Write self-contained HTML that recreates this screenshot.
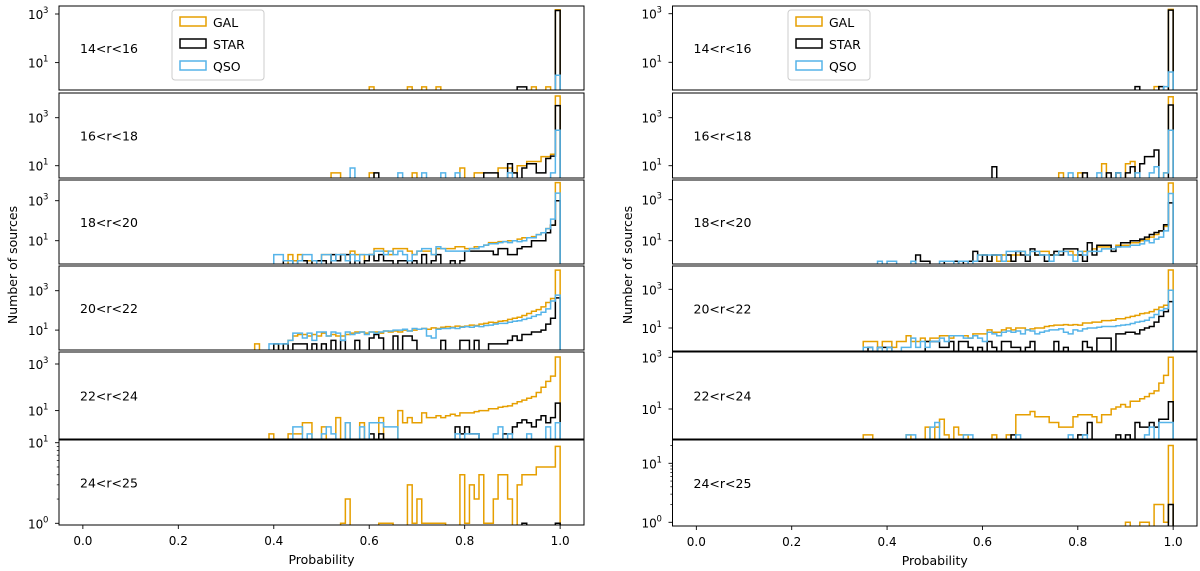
<!DOCTYPE html>
<html><head><meta charset="utf-8">
<style>
html,body{margin:0;padding:0;background:#fff;}
svg{display:block;font-family:"DejaVu Sans","Liberation Sans",sans-serif;}
</style></head>
<body>
<svg id="fig" width="1200" height="571" viewBox="0 0 1200 571" xmlns="http://www.w3.org/2000/svg"></svg>
<script>
// ---- data: counts per bin, bins start at probability 0.35, width 0.01 (65 bins) ----
const binStart = 35;
const rowLabels = ["14<r<16","16<r<18","18<r<20","20<r<22","22<r<24","24<r<25"];
const xTicks = [0.0,0.2,0.4,0.6,0.8,1.0];
const xTickLabels = ["0.0","0.2","0.4","0.6","0.8","1.0"];
const seriesNames = ["GAL","STAR","QSO"];

// LEFT
const L1_gal=[0,0,0,0,0, 0,0,0,0,0, 0,0,0,0,0, 0,0,0,0,0, 0,0,0,0,0, 1,0,0,0,0, 0,0,0,1,0, 0,1,0,0,1, 0,0,0,0,0, 0,0,0,0,0, 0,0,0,0,0, 0,0,0,0,1, 0,0,1,0,1500];
const L1_star=[0,0,0,0,0, 0,0,0,0,0, 0,0,0,0,0, 0,0,0,0,0, 0,0,0,0,0, 0,0,0,0,0, 0,0,0,0,0, 0,0,0,0,0, 0,0,0,0,0, 0,0,0,0,0, 0,0,0,0,0, 0,1,1,0,0, 0,0,0,0,1400];
const L1_qso=[0,0,0,0,0, 0,0,0,0,0, 0,0,0,0,0, 0,0,0,0,0, 0,0,0,0,0, 0,0,0,0,0, 0,0,0,0,0, 0,0,0,0,0, 0,0,0,0,0, 0,0,0,0,0, 0,0,0,0,0, 0,0,0,0,0, 0,0,0,0,3];
const L2_gal=[0,0,0,0,0, 0,0,0,0,0, 0,0,0,0,0, 0,0,5,5,0, 0,0,0,0,0, 5,0,0,0,0, 0,0,0,0,5, 0,0,0,0,0, 0,0,0,0,8, 0,0,5,5,0, 0,0,8,8,8, 5,10,10,15,15, 15,24,24,30,8000];
const L2_star=[0,0,0,0,0, 0,0,0,0,0, 0,0,0,0,0, 0,0,0,0,0, 0,0,0,0,0, 0,5,0,0,0, 0,0,0,0,0, 0,0,0,0,0, 0,0,0,0,0, 0,0,0,0,5, 5,5,0,0,12, 5,0,8,12,12, 5,5,20,25,3200];
const L2_qso=[0,0,0,0,0, 0,0,0,0,0, 0,0,0,0,0, 0,0,0,0,0, 0,8,0,0,0, 0,0,0,0,0, 0,5,0,0,0, 0,5,0,0,0, 5,0,0,5,0, 0,0,0,0,0, 0,0,0,0,5, 0,0,0,0,0, 0,0,0,5,300];
const L3_gal=[0,0,0,0,0, 0,0,0,2,1, 2,1,1,0,1, 2,2,1,1,2, 1,3,2,2,1, 2,4,4,3,2, 4,4,4,3,2, 3,3,3,2,4, 4,4,4,5,5, 4,4,5,5,6, 8,8,9,9,10, 10,12,14,14,16, 20,25,40,60,8000];
const L3_star=[0,0,0,0,0, 0,0,1,1,0, 1,1,0,1,1, 1,0,2,1,2, 2,0,1,0,1, 2,1,2,1,1, 0,1,1,0,1, 0,2,0,1,2, 0,0,1,0,1, 3,3,3,3,3, 3,2,4,4,2, 2,4,5,5,10, 10,10,25,60,1000];
const L3_qso=[0,0,0,0,0, 2,2,1,1,0, 1,2,2,1,0, 2,2,1,2,2, 1,2,1,2,2, 2,3,3,2,3, 2,3,2,1,2, 3,4,4,2,5, 4,3,3,3,3, 3,4,4,5,6, 7,7,8,9,8, 10,9,10,14,14, 20,25,40,120,2400];
const L4_gal=[0,2,0,0,0, 2,0,2,3,5, 6,6,5,6,5, 7,5,6,5,5, 6,7,8,8,7, 8,8,7,9,8, 9,8,10,9,10, 11,12,11,13,12, 14,15,14,16,15, 16,18,17,20,22, 25,24,28,30,35, 40,45,55,70,90, 110,150,250,400,11000];
const L4_star=[0,0,0,0,0, 2,0,2,0,2, 2,2,0,2,0, 2,0,3,0,3, 0,0,3,0,0, 4,6,4,0,0, 5,0,5,5,3, 0,0,0,0,0, 3,0,0,0,3, 3,0,3,0,0, 2,2,2,2,3, 5,3,6,6,8, 8,10,20,40,430];
const L4_qso=[0,0,0,0,2, 2,2,2,3,7, 7,4,7,3,8, 8,5,8,7,3, 8,6,7,8,6, 8,7,8,9,9, 10,10,11,9,12, 11,12,5,4,11, 12,12,13,12,14, 15,14,16,15,17, 18,20,22,22,25, 28,30,35,40,50, 60,80,120,300,600];
const L5_gal=[0,0,0,0,1, 0,0,0,1,1, 1,3,3,0,0, 2,0,0,5,0, 3,0,0,3,0, 0,0,5,0,0, 0,10,3,5,3, 3,8,5,5,6, 5,6,7,6,8, 8,8,9,10,10, 12,12,14,15,16, 20,24,28,34,40, 60,100,180,300,2000];
const L5_star=[0,0,0,0,0, 0,0,0,0,0, 0,0,0,0,0, 0,0,0,0,0, 0,0,0,0,0, 1,0,1,0,0, 0,0,0,0,0, 0,0,0,0,0, 0,0,0,2,1, 2,1,1,0,0, 0,0,0,1,1, 2,3,4,3,2, 4,6,3,5,21];
const L5_qso=[0,0,0,0,0, 0,0,0,0,2, 2,0,1,0,0, 1,2,1,0,0, 3,0,0,2,0, 3,3,3,2,2, 2,0,0,0,0, 0,0,0,0,0, 0,0,0,1,0, 1,1,1,0,0, 0,1,2,0,1, 0,0,0,1,0, 0,0,2,0,3];
const L6_gal=[0,0,0,0,0, 0,0,0,0,0, 0,0,0,0,0, 0,0,0,0,1, 2,0,0,0,0, 0,0,1,1,1, 0,0,0,3,1, 2,1,1,1,1, 1,0,0,0,4, 1,3,2,4,1, 1,2,4,4,2, 0,3,4,4,4, 5,5,5,5,9];
const L6_star=[0,0,0,0,0, 0,0,0,0,0, 0,0,0,0,0, 0,0,0,0,0, 0,0,0,0,0, 0,0,0,0,0, 0,0,0,0,0, 0,0,0,0,0, 0,0,0,0,0, 0,0,0,0,0, 0,0,0,0,0, 0,0,1,0,0, 0,0,0,0,1];
const L6_qso=[0,0,0,0,0, 0,0,0,0,0, 0,0,0,0,0, 0,0,0,0,0, 0,0,0,0,0, 0,0,0,0,0, 0,0,0,0,0, 0,0,0,0,0, 0,0,0,0,0, 0,0,0,0,0, 0,0,0,0,0, 0,0,0,0,0, 0,0,0,0,0];
// RIGHT
const R1_gal=[0,0,0,0,0, 0,0,0,0,0, 0,0,0,0,0, 0,0,0,0,0, 0,0,0,0,0, 0,0,0,0,0, 0,0,0,0,0, 0,0,0,0,0, 0,0,0,0,0, 0,0,0,0,0, 0,0,0,0,0, 0,0,0,0,0, 0,1,0,0,1500];
const R1_star=[0,0,0,0,0, 0,0,0,0,0, 0,0,0,0,0, 0,0,0,0,0, 0,0,0,0,0, 0,0,0,0,0, 0,0,0,0,0, 0,0,0,0,0, 0,0,0,0,0, 0,0,0,0,0, 0,0,0,0,0, 0,0,1,0,0, 0,0,1,0,1400];
const R1_qso=[0,0,0,0,0, 0,0,0,0,0, 0,0,0,0,0, 0,0,0,0,0, 0,0,0,0,0, 0,0,0,0,0, 0,0,0,0,0, 0,0,0,0,0, 0,0,0,0,0, 0,0,0,0,0, 0,0,0,0,0, 0,0,0,0,0, 0,0,0,1,4];
const R2_gal=[0,0,0,0,0, 0,0,0,0,0, 0,0,0,0,0, 0,0,0,0,0, 0,0,0,0,0, 0,0,0,0,0, 0,0,0,0,0, 0,0,0,0,0, 0,5,0,0,0, 5,0,0,0,0, 12,0,0,5,0, 12,15,0,0,0, 0,0,0,5,7500];
const R2_star=[0,0,0,0,0, 0,0,0,0,0, 0,0,0,0,0, 0,0,0,0,0, 0,0,0,0,0, 0,0,9,0,0, 0,0,0,0,0, 0,0,0,0,0, 0,0,0,0,0, 0,5,0,0,0, 0,5,0,5,0, 5,9,0,12,24, 24,45,0,0,3400];
const R2_qso=[0,0,0,0,0, 0,0,0,0,0, 0,0,0,0,0, 0,0,0,0,0, 0,0,0,0,0, 0,0,0,0,0, 0,0,0,0,0, 0,0,0,0,0, 0,0,0,5,0, 0,0,0,0,5, 0,0,0,5,0, 0,0,5,0,0, 5,9,0,5,300];
const R3_gal=[0,0,0,0,0, 0,0,0,0,0, 0,0,0,0,0, 0,0,1,1,1, 1,1,1,1,2, 2,1,2,1,2, 1,2,2,3,2, 3,2,3,3,2, 2,3,3,3,2, 2,3,3,4,5, 5,5,4,6,6, 6,8,8,10,12, 15,20,30,50,6500];
const R3_star=[0,0,0,0,0, 0,0,0,0,0, 0,2,1,1,0, 0,0,1,1,1, 0,1,1,3,1, 2,1,2,2,1, 2,1,3,2,1, 4,2,2,1,2, 3,2,4,4,4, 2,1,8,2,6, 6,6,3,5,8, 8,10,10,12,15, 20,25,30,60,700];
const R3_qso=[0,0,0,1,0, 1,1,0,0,0, 1,0,0,0,0, 0,1,1,1,0, 1,1,0,1,2, 2,2,2,2,1, 3,3,3,3,2, 3,3,2,2,1, 2,3,3,2,1, 3,2,3,3,3, 4,4,4,5,5, 5,6,6,7,10, 8,12,15,30,2000];
const R4_gal=[2,2,2,1,2, 2,1,2,2,4, 2,2,3,2,3, 3,4,4,3,4, 4,4,3,5,5, 5,8,6,6,8, 10,8,10,10,8, 9,10,10,12,13, 14,14,15,14,15, 14,18,18,20,20, 24,24,25,30,30, 35,40,45,55,60, 70,90,120,150,10000];
const R4_star=[0,1,0,1,1, 1,0,0,0,0, 0,0,0,2,2, 2,1,1,2,0, 2,2,1,0,1, 0,2,1,0,2, 2,1,1,0,1, 2,0,0,0,0, 2,0,1,0,0, 0,2,1,0,3, 3,3,0,5,5, 6,6,5,8,10, 12,20,40,70,230];
const R4_qso=[1,1,0,1,0, 1,0,0,1,1, 3,1,2,1,2, 2,3,2,4,4, 4,3,3,4,3, 2,6,5,4,6, 7,6,7,5,8, 7,5,6,7,8, 8,9,6,5,8, 7,9,10,10,11, 12,12,12,13,14, 15,17,20,22,25, 35,50,80,100,900];
const R5_gal=[1,1,0,0,0, 0,0,0,0,1, 0,0,0,2,0, 2,4,1,0,2, 1,1,0,0,0, 0,0,1,0,0, 1,0,6,6,6, 8,5,5,5,3, 3,2,2,2,5, 6,6,6,5,3, 6,6,10,12,15, 12,20,20,25,30, 40,50,100,200,1000];
const R5_star=[0,0,0,0,0, 0,0,0,0,0, 0,0,0,0,0, 0,0,0,0,0, 0,0,0,0,0, 0,0,0,0,0, 0,1,0,0,0, 0,0,0,0,0, 0,0,0,0,0, 1,1,3,0,0, 0,0,0,1,0, 1,0,3,2,2, 3,2,4,4,19];
const R5_qso=[0,0,0,0,0, 0,0,0,0,1, 1,0,0,0,2, 3,0,0,0,0, 0,1,1,0,0, 0,0,0,0,0, 0,0,1,0,0, 0,0,0,0,0, 0,0,0,1,0, 0,1,0,0,0, 0,0,0,0,0, 0,0,0,0,1, 2,0,3,3,3];
const R6_gal=[0,0,0,0,0, 0,0,0,0,0, 0,0,0,0,0, 0,0,0,0,0, 0,0,0,0,0, 0,0,0,0,0, 0,0,0,0,0, 0,0,0,0,0, 0,0,0,0,0, 0,0,0,0,0, 0,0,0,0,0, 1,0,0,1,1, 0,2,2,1,20];
const R6_star=[0,0,0,0,0, 0,0,0,0,0, 0,0,0,0,0, 0,0,0,0,0, 0,0,0,0,0, 0,0,0,0,0, 0,0,0,0,0, 0,0,0,0,0, 0,0,0,0,0, 0,0,0,0,0, 0,0,0,0,0, 0,0,0,0,0, 0,0,0,0,2];
const R6_qso=[0,0,0,0,0, 0,0,0,0,0, 0,0,0,0,0, 0,0,0,0,0, 0,0,0,0,0, 0,0,0,0,0, 0,0,0,0,0, 0,0,0,0,0, 0,0,0,0,0, 0,0,0,0,0, 0,0,0,0,0, 0,0,0,0,0, 0,0,0,0,0];

const leftData=[[L1_gal,L1_star,L1_qso],[L2_gal,L2_star,L2_qso],[L3_gal,L3_star,L3_qso],[L4_gal,L4_star,L4_qso],[L5_gal,L5_star,L5_qso],[L6_gal,L6_star,L6_qso]];
const rightData=[[R1_gal,R1_star,R1_qso],[R2_gal,R2_star,R2_qso],[R3_gal,R3_star,R3_qso],[R4_gal,R4_star,R4_qso],[R5_gal,R5_star,R5_qso],[R6_gal,R6_star,R6_qso]];

// ---- layout (pixel geometry) ----
const colors=["#E69F00","#000000","#56B4E9"];
const panels=[
 {name:"left",axL:59,axW:525,legendX:172,yTitleX:13,data:leftData,
  rows:[[6,90,3,14,24.3],[93,178,3,117.7,24],[180,264,3,200.7,20],[266,350,3,290.7,19.7],[352,439,3,364,23.3],[440,525,1,442.7,80.6]]},
 {name:"right",axL:672.5,axW:524.5,legendX:788,yTitleX:628,data:rightData,
  rows:[[6,90,3,13.7,24.3],[93,178,3,117.7,24],[180,264,3,199.7,20.5],[266,351,3,289.3,19.35],[352,439,3,357.3,25.85],[440,526,1,463.3,59]]}
];
const NS="http://www.w3.org/2000/svg";
const svg=document.getElementById("fig");
function mk(tag,attrs,parent){const e=document.createElementNS(NS,tag);for(const k in attrs)e.setAttribute(k,attrs[k]);(parent||svg).appendChild(e);return e;}

const defs=mk("defs",{});
panels.forEach((p,pi)=>{
  const xOf=v=>p.axL+(v+0.05)/1.1*p.axW;
  const pg=mk("g",{});
  
  
  p.rows.forEach((r,ri)=>{
    const [top,bot,refExp,refY,dec]=r;
    const yOf=c=>refY-(Math.log10(c)-refExp)*dec;
    const g=mk("g",{},pg);
    
    
    const cid="clip"+pi+"_"+ri;
    const cp=mk("clipPath",{id:cid},defs);
    mk("rect",{x:p.axL,y:top,width:p.axW,height:bot-top},cp);
    p.data[ri].forEach((arr,si)=>{
      let d="";
      const base=bot+6;
      const n=Math.min(arr.length,100-binStart);
      for(let i=0;i<n;i++){
        const c=arr[i];
        const x0=xOf((binStart+i)/100),x1=xOf((binStart+i+1)/100);
        const y=c>0?yOf(c):base;
        if(i===0)d+="M"+x0.toFixed(2)+","+base+" ";
        d+="L"+x0.toFixed(2)+","+y.toFixed(2)+" L"+x1.toFixed(2)+","+y.toFixed(2)+" ";
      }
      d+="L"+xOf((binStart+n)/100).toFixed(2)+","+base;
      const path=mk("path",{d:d,fill:"none",stroke:colors[si],"stroke-width":1.5,"stroke-linejoin":"miter","clip-path":"url(#"+cid+")"},g);
      
      
    });
    const frame=mk("rect",{x:p.axL,y:top,width:p.axW,height:bot-top,fill:"none",stroke:"#000","stroke-width":1},g);
    
    
    const lab=mk("text",{x:p.axL+21,y:(top+bot)/2+5,"font-size":12.5,fill:"#000"},g);
    lab.textContent=rowLabels[ri];
    
    
    const exps=ri<5?[1,3]:[0,1];
    exps.forEach(e=>{
      const y=yOf(Math.pow(10,e));
      mk("line",{x1:p.axL-4,x2:p.axL,y1:y,y2:y,stroke:"#000","stroke-width":0.9},g);
      const t=mk("text",{x:p.axL-31,y:y+5,"font-size":12,fill:"#000"},g);
      
      
      const b=mk("tspan",{x:p.axL-31},t);b.textContent="10";
      const s=mk("tspan",{"font-size":8.5,x:p.axL-16,dy:-6},t);s.textContent=String(e);
    });
    if(ri===5){
      [2,3,4,5,6,7,8,9,20].forEach(m=>{
        const y=yOf(m);
        if(y>top+0.5&&y<bot)mk("line",{x1:p.axL-2.2,x2:p.axL,y1:y,y2:y,stroke:"#000","stroke-width":0.7},g);
      });
    }
  });
  const bot=p.rows[5][1];
  xTicks.forEach((v,i)=>{
    const x=xOf(v);
    mk("line",{x1:x,x2:x,y1:bot,y2:bot+4,stroke:"#000","stroke-width":0.9},pg);
    const t=mk("text",{x:x,y:bot+20,"font-size":12,"text-anchor":"middle",fill:"#000"},pg);
    t.textContent=xTickLabels[i];
    
    
  });
  const xl=mk("text",{x:p.axL+p.axW/2,y:bot+39,"font-size":12.5,"text-anchor":"middle",fill:"#000"},pg);
  xl.textContent="Probability";
  
  
  const yl=mk("text",{x:0,y:0,"font-size":12.5,"text-anchor":"middle",fill:"#000",transform:"translate("+(p.yTitleX+4)+",265) rotate(-90)"},pg);
  yl.textContent="Number of sources";
  
  
  const lg=mk("g",{},pg);
  
  
  const lx=p.legendX;
  mk("rect",{x:lx,y:10,width:p.name==="left"?92:82,height:70,rx:3,fill:"#fff",stroke:"#ccc","stroke-width":1},lg);
  seriesNames.forEach((n,si)=>{
    const y=17+si*22;
    mk("rect",{x:lx+8,y:y,width:26,height:9,fill:"none",stroke:colors[si],"stroke-width":1.5},lg);
    const t=mk("text",{x:lx+41,y:y+10,"font-size":12.5,fill:"#000"},lg);
    t.textContent=n;
    
    
  });
});
</script>
</body></html>
